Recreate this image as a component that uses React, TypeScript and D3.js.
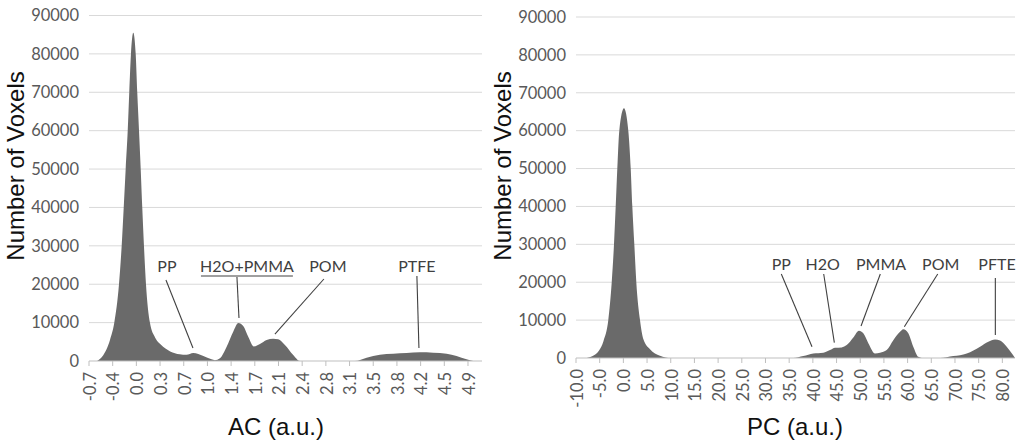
import React from 'react';
import * as d3 from 'd3';

// ---------- data ----------
const acValues = [-0.58, -0.49, -0.39, -0.326, -0.257, -0.217, -0.187, -0.158, -0.128, -0.105, -0.08, -0.046, -0.01, 0.013, 0.039, 0.064, 0.087, 0.112, 0.142, 0.2, 0.28, 0.36, 0.5, 0.64, 0.74, 0.84, 0.99, 1.11, 1.16, 1.235, 1.334, 1.431, 1.508, 1.579, 1.653, 1.737, 1.826, 1.925, 2.022, 2.096, 2.195, 2.318, 2.417, 3.229, 3.402, 3.598, 3.795, 3.993, 4.189, 4.386, 4.584, 4.731, 4.879, 4.977];
const acCounts = [0, 1500, 5500, 10000, 20000, 30000, 40000, 50000, 60000, 70000, 80000, 85500, 80000, 70000, 60000, 50000, 40000, 30000, 20000, 10000, 6000, 4300, 2500, 1750, 1600, 2100, 1300, 450, 200, 700, 3700, 7650, 9900, 9130, 6340, 3800, 4430, 5480, 5800, 5660, 4170, 1560, 0, 0, 870, 1650, 1900, 2100, 2260, 2170, 1900, 1300, 440, 0];

const pcValues = [-7.74, -6.2, -5.14, -4.19, -3.18, -2.46, -1.98, -1.62, -1.28, -0.86, 0.13, 1.04, 1.55, 1.89, 2.31, 2.73, 3.51, 4.21, 5.62, 7.73, 10.05, 35.87, 37.98, 40.1, 42.21, 43.62, 44.68, 46.09, 47.15, 48.54, 49.74, 50.65, 51.71, 53.12, 54.18, 55.59, 56.98, 58.4, 59.09, 60.15, 61.2, 62.26, 62.98, 66.84, 69.65, 72.48, 75.29, 77.04, 78.45, 79.51, 80.92, 82.25, 82.67];
const pcCounts = [0, 700, 2000, 4500, 10000, 20000, 30000, 40000, 50000, 60000, 65900, 60000, 50000, 40000, 30000, 20000, 10000, 5000, 2300, 600, 0, 0, 500, 1200, 1400, 2100, 2700, 2800, 3400, 5400, 7200, 6500, 3900, 1200, 1400, 2100, 4700, 6900, 7600, 6500, 3000, 300, 0, 0, 500, 1200, 3000, 4300, 4900, 4600, 3000, 800, 0];

const acTickValues = [-0.7, -0.35, 0, 0.35, 0.7, 1.05, 1.4, 1.75, 2.1, 2.45, 2.8, 3.15, 3.5, 3.85, 4.2, 4.55, 4.9];
const acTickLabels = ['-0.7', '-0.4', '0.0', '0.3', '0.7', '1.0', '1.4', '1.7', '2.1', '2.4', '2.8', '3.1', '3.5', '3.8', '4.2', '4.5', '4.9'];
const pcTickValues = [-10, -5, 0, 5, 10, 15, 20, 25, 30, 35, 40, 45, 50, 55, 60, 65, 70, 75, 80];
const pcTickLabels = ['-10.0', '-5.0', '0.0', '5.0', '10.0', '15.0', '20.0', '25.0', '30.0', '35.0', '40.0', '45.0', '50.0', '55.0', '60.0', '65.0', '70.0', '75.0', '80.0'];
const yTicks = [0, 10000, 20000, 30000, 40000, 50000, 60000, 70000, 80000, 90000];

// annotations in data coordinates: label position, leader line start and end
const acNoteLabels = ['PP', 'H2O+PMMA', 'POM', 'PTFE'];
const acNoteLabelX = [0.452, 1.634, 2.83, 4.145];
const acNoteLineFrom = [[0.437, 21100], [1.486, 21880], [2.771, 21360], [4.145, 22140]];
const acNoteLineTo = [[0.836, 3390], [1.516, 11200], [2.047, 7030], [4.175, 3390]];
const acUnderline = [0.954, 2.313, 22140];

const pcNoteLabels = ['PP', 'H2O', 'PMMA', 'POM', 'PFTE'];
const pcNoteLabelX = [33.34, 42.08, 54.39, 66.99, 78.88];
const pcNoteLineFrom = [[33.34, 22170], [42.29, 22170], [54.24, 22170], [66.36, 22170], [78.52, 21110]];
const pcNoteLineTo = [[39.82, 2980], [44.53, 4040], [50.17, 8450], [59.31, 8260], [78.52, 6070]];
const noteBaselineValue = 23100;

const TICK_FONT = 'Lato, "Open Sans", sans-serif';
const TITLE_FONT = '"Liberation Sans", Arial, sans-serif';

type PanelProps = {
  xs: number[];
  ys: number[];
  xDomain: [number, number];
  xRange: [number, number];
  yRange: [number, number];
  tickValues: number[];
  tickLabels: string[];
  title: string;
  titleX: number;
  yTitleX: number;
  noteLabels: string[];
  noteLabelX: number[];
  noteFrom: number[][];
  noteTo: number[][];
  underline?: number[];
};

function Panel(p: PanelProps) {
  const x = d3.scaleLinear().domain(p.xDomain).range(p.xRange);
  const y = d3.scaleLinear().domain([0, 90000]).range(p.yRange);
  const pts = p.xs.map((v, i) => [v, p.ys[i]] as [number, number]);
  const area = d3
    .area<[number, number]>()
    .x((d) => x(d[0]))
    .y0(y(0))
    .y1((d) => y(d[1]))
    .curve(d3.curveMonotoneX)(pts);
  const [x0, x1] = p.xRange;
  const y0 = y(0);
  return (
    <g>
      {yTicks.map((t) => (
        <g key={t}>
          {t > 0 && <line x1={x0} x2={x1} y1={y(t)} y2={y(t)} stroke="#d9d9d9" strokeWidth={1} />}
          <text x={x0 - 10} y={y(t)} dy="0.35em" textAnchor="end" fontFamily={TICK_FONT} fontSize={16.5} fill="#595959">
            {t}
          </text>
        </g>
      ))}
      <path d={area || ''} fill="#6a6a6a" />
      <line x1={x0} x2={x1} y1={y0} y2={y0} stroke="#bfbfbf" strokeWidth={1.2} />
      {p.tickValues.map((t, i) => (
        <g key={i}>
          <line x1={x(t)} x2={x(t)} y1={y0} y2={y0 + 5} stroke="#bfbfbf" strokeWidth={1} />
          <text
            transform={`translate(${x(t) + 1},${y0 + 11}) rotate(-90)`}
            textAnchor="end"
            dy="0.35em"
            fontFamily={TICK_FONT}
            fontSize={16.5}
            fill="#595959"
          >
            {p.tickLabels[i]}
          </text>
        </g>
      ))}
      {p.noteLabels.map((l, i) => (
        <g key={l}>
          <line
            x1={x(p.noteFrom[i][0])}
            y1={y(p.noteFrom[i][1])}
            x2={x(p.noteTo[i][0])}
            y2={y(p.noteTo[i][1])}
            stroke="#404040"
            strokeWidth={1.1}
          />
          <text x={x(p.noteLabelX[i])} y={y(noteBaselineValue)} textAnchor="middle" fontFamily={TICK_FONT} fontSize={16} fill="#404040">
            {l}
          </text>
        </g>
      ))}
      {p.underline && (
        <line
          x1={x(p.underline[0])}
          x2={x(p.underline[1])}
          y1={y(p.underline[2])}
          y2={y(p.underline[2])}
          stroke="#404040"
          strokeWidth={1.1}
        />
      )}
      <text x={p.titleX} y={435} textAnchor="middle" fontFamily={TITLE_FONT} fontSize={24} fill="#111">
        {p.title}
      </text>
      <text
        transform={`translate(${p.yTitleX},166) rotate(-90)`}
        textAnchor="middle"
        fontFamily={TITLE_FONT}
        fontSize={24}
        fill="#111"
      >
        Number of Voxels
      </text>
    </g>
  );
}

export default function App() {
  return (
    <svg width={1024} height={441} style={{ position: 'absolute', left: 0, top: 0, background: '#fff' }}>
      <rect width={1024} height={441} fill="#fff" />
      <Panel
        xs={acValues}
        ys={acCounts}
        xDomain={[-0.7, 5.107]}
        xRange={[89, 482]}
        yRange={[361, 15.5]}
        tickValues={acTickValues}
        tickLabels={acTickLabels}
        title="AC (a.u.)"
        titleX={276}
        yTitleX={24}
        noteLabels={acNoteLabels}
        noteLabelX={acNoteLabelX}
        noteFrom={acNoteLineFrom}
        noteTo={acNoteLineTo}
        underline={acUnderline}
      />
      <Panel
        xs={pcValues}
        ys={pcCounts}
        xDomain={[-10, 82.67]}
        xRange={[576, 1015]}
        yRange={[358, 17]}
        tickValues={pcTickValues}
        tickLabels={pcTickLabels}
        title="PC (a.u.)"
        titleX={795}
        yTitleX={511}
        noteLabels={pcNoteLabels}
        noteLabelX={pcNoteLabelX}
        noteFrom={pcNoteLineFrom}
        noteTo={pcNoteLineTo}
      />
    </svg>
  );
}
